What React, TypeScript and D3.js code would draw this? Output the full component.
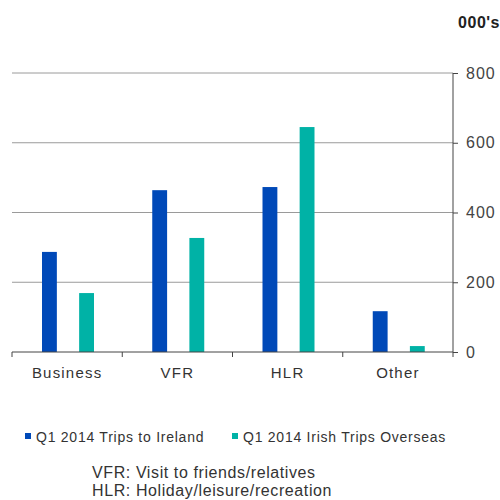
import { useEffect, useRef } from 'react'
import { axisBottom, axisRight, scaleBand, scaleLinear, select } from 'd3'

const categories = ['Business', 'VFR', 'HLR', 'Other']
const seriesNames = ['Q1 2014 Trips to Ireland', 'Q1 2014 Irish Trips Overseas']
const tripsToIreland = [287, 464, 473, 117]
const irishTripsOverseas = [169, 327, 645, 17]
const yTicks = [0, 200, 400, 600, 800]
const notes = ['VFR: Visit to friends/relatives', 'HLR: Holiday/leisure/recreation']

const colors = ['#0049b8', '#00b2a6']

const dims = {
  width: 500,
  height: 500,
  left: 12,
  right: 453,
  top: 73,
  bottom: 352,
}

const font = 'Liberation Sans, Arial, sans-serif'

const App = () => {
  const ref = useRef<SVGSVGElement | null>(null)

  useEffect(() => {
    const svg = select(ref.current)
    svg.selectAll('*').remove()

    const x = scaleBand().domain(categories).range([dims.left, dims.right])
    const inner = scaleBand().domain(['a', 'b']).range([30, 82]).paddingInner(0.6)
    const y = scaleLinear().domain([0, 800]).range([dims.bottom, dims.top])

    // gridlines
    svg.append('g')
      .selectAll('line')
      .data(yTicks.filter(d => d > 0))
      .enter()
      .append('line')
      .attr('x1', dims.left)
      .attr('x2', dims.right)
      .attr('y1', d => y(d))
      .attr('y2', d => y(d))
      .attr('stroke', '#9a9a9a')
      .attr('stroke-width', 1)

    const rows = categories.map((c, i) => ({ c, vals: [tripsToIreland[i], irishTripsOverseas[i]] }))

    const groups = svg.append('g')
      .selectAll('g')
      .data(rows)
      .enter()
      .append('g')
      .attr('transform', d => `translate(${x(d.c)},0)`)

    groups.selectAll('rect')
      .data(d => d.vals.map((v, j) => ({ v, j })))
      .enter()
      .append('rect')
      .attr('x', d => inner(d.j === 0 ? 'a' : 'b')!)
      .attr('width', inner.bandwidth())
      .attr('y', d => y(d.v))
      .attr('height', d => dims.bottom - y(d.v))
      .attr('fill', d => colors[d.j])

    // bottom axis
    const xAxis = svg.append('g')
      .attr('transform', `translate(0,${dims.bottom})`)
      .call(axisBottom(x).tickSize(0).tickPadding(15))
    xAxis.select('.domain').attr('stroke', '#444').attr('d', `M${dims.left},0H${dims.right}`)
    xAxis.selectAll('text')
      .attr('font-family', font)
      .attr('font-size', 15)
      .attr('fill', '#333')
      .attr('letter-spacing', 1.2)
    svg.append('g')
      .selectAll('line')
      .data(categories)
      .enter()
      .append('line')
      .attr('x1', d => x(d)!)
      .attr('x2', d => x(d)!)
      .attr('y1', dims.bottom)
      .attr('y2', dims.bottom + 5)
      .attr('stroke', '#444')

    // right axis
    const yAxis = svg.append('g')
      .attr('transform', `translate(${dims.right},0)`)
      .call(axisRight(y).tickValues(yTicks).tickSize(5).tickPadding(8))
    yAxis.select('.domain').attr('stroke', '#444').attr('d', `M0,${dims.top}V${dims.bottom + 5}`)
    yAxis.selectAll('.tick line').attr('stroke', '#444')
    yAxis.selectAll('text')
      .attr('font-family', font)
      .attr('font-size', 16)
      .attr('letter-spacing', 1)
      .attr('fill', '#444')

    svg.append('text')
      .attr('x', 500)
      .attr('y', 28)
      .attr('text-anchor', 'end')
      .attr('font-family', font)
      .attr('font-size', 16)
      .attr('letter-spacing', 0.5)
      .attr('font-weight', 'bold')
      .attr('fill', '#222')
      .text("000's")

    // legend
    const legendX = [25, 232]
    const legend = svg.append('g')
      .selectAll('g')
      .data(seriesNames)
      .enter()
      .append('g')
      .attr('transform', (_, i) => `translate(${legendX[i]},442)`)
    legend.append('rect')
      .attr('x', 0)
      .attr('y', -9)
      .attr('width', 6)
      .attr('height', 6)
      .attr('fill', (_, i) => colors[i])
    legend.append('text')
      .attr('x', 11)
      .attr('y', 0)
      .attr('font-family', font)
      .attr('font-size', 14)
      .attr('letter-spacing', 0.75)
      .attr('fill', '#333')
      .text(d => d)

    svg.append('g')
      .selectAll('text')
      .data(notes)
      .enter()
      .append('text')
      .attr('x', 92)
      .attr('y', (_, i) => 478 + i * 18)
      .attr('font-family', font)
      .attr('font-size', 16)
      .attr('letter-spacing', 0.6)
      .attr('fill', '#333')
      .text(d => d)
  }, [])

  return (
    <svg
      ref={ref}
      width={dims.width}
      height={dims.height}
      style={{ position: 'absolute', left: 0, top: 0, background: '#fff' }}
    />
  )
}

export default App
